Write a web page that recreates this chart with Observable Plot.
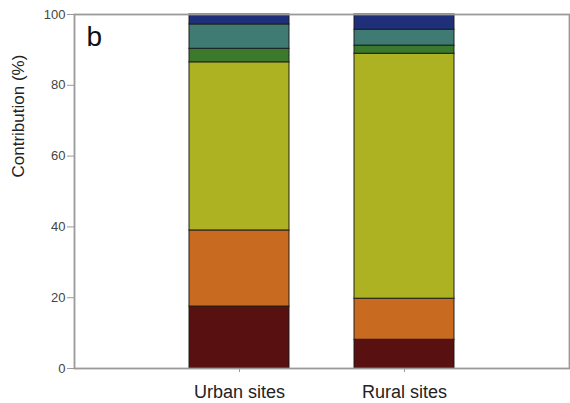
<!DOCTYPE html>
<html>
<head>
<meta charset="utf-8">
<script src="https://cdn.jsdelivr.net/npm/d3@7"></script>
<script src="https://cdn.jsdelivr.net/npm/@observablehq/plot@0.6"></script>
<style>
  html, body { margin: 0; padding: 0; background: #fff; }
  #chart svg { display: block; }
</style>
</head>
<body>
<div id="chart"></div>
<script>
// Sites on the x axis
const sites = ["Urban sites", "Rural sites"];
// Source categories, stacked bottom to top
const sources = ["Source 1", "Source 2", "Source 3", "Source 4", "Source 5", "Source 6"];
const sourceColors = ["#581010", "#c86a20", "#acb222", "#3b7a2c", "#3f7a73", "#1f2f7a"];
// Percentage contribution of each source, per site
const urbanValues = [17.5, 21.5, 47.5, 3.8, 6.9, 2.8];
const ruralValues = [8.1, 11.6, 69.2, 2.3, 4.5, 4.3];
const yTicks = [0, 20, 40, 60, 80, 100];

const rows = [];
[urbanValues, ruralValues].forEach((vals, i) => {
  vals.forEach((v, j) => rows.push({site: sites[i], source: sources[j], value: v}));
});

const chart = Plot.plot({
  width: 570,
  height: 403,
  marginLeft: 74,
  marginRight: 1,
  marginTop: 14,
  marginBottom: 35,
  style: {fontFamily: "Liberation Sans, Arial, sans-serif", background: "#fff"},
  x: {domain: sites, paddingInner: 0.394, paddingOuter: 0.697, label: null},
  y: {domain: [0, 100], label: null},
  color: {domain: sources, range: sourceColors},
  marks: [
    Plot.barY(rows, {
      x: "site", y: "value", fill: "source",
      order: sources,
      stroke: "#1a1a1a", strokeOpacity: 0.8, strokeWidth: 1.2
    }),
    Plot.frame({stroke: "#9a9a9a", strokeWidth: 1.8}),
    Plot.axisY({
      ticks: yTicks, tickSize: 7, tickPadding: 2, stroke: "#9a9a9a",
      fontSize: 13, fill: "#444", label: null
    }),
    Plot.axisX({
      tickSize: 4, tickPadding: 13, stroke: "#9a9a9a",
      fontSize: 18, fill: "#222", label: null
    }),
    Plot.text(["Contribution (%)"], {
      frameAnchor: "left", dx: -56, dy: -14, rotate: -90, fontSize: 17, fill: "#222"
    }),
    Plot.text(["b"], {
      frameAnchor: "top-left", dx: 12, dy: 12, fontSize: 28, fill: "#111",
      lineAnchor: "top"
    })
  ]
});

document.getElementById("chart").appendChild(chart);
</script>
</body>
</html>
